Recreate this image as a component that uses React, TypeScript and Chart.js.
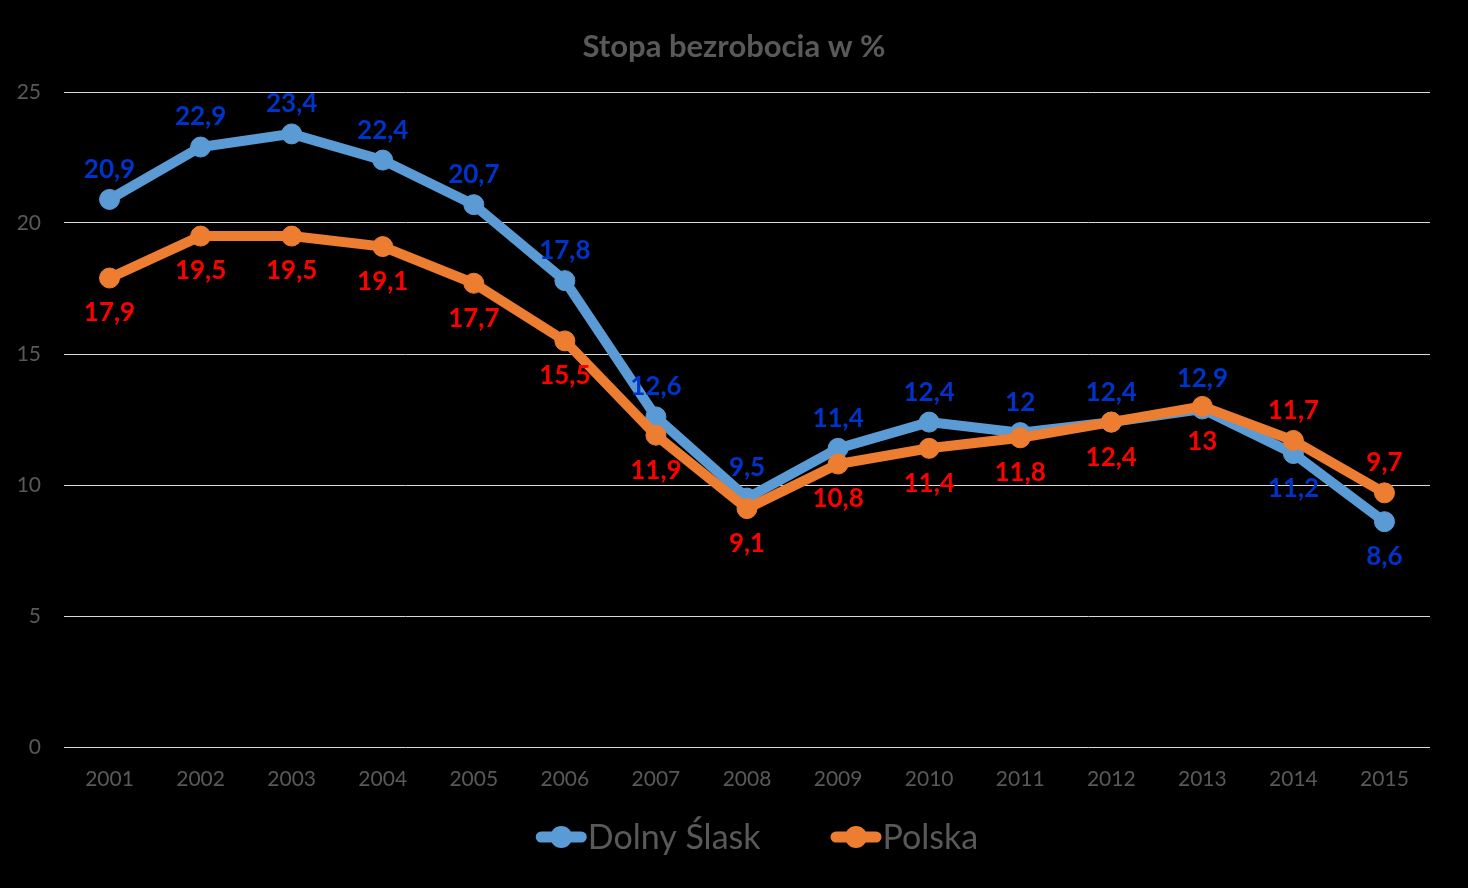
import React, { useEffect, useRef } from "react";
import { Chart, registerables } from "chart.js";

Chart.register(...registerables);

const years = ["2001", "2002", "2003", "2004", "2005", "2006", "2007", "2008", "2009", "2010", "2011", "2012", "2013", "2014", "2015"];
const dolnySlask = [20.9, 22.9, 23.4, 22.4, 20.7, 17.8, 12.6, 9.5, 11.4, 12.4, 12, 12.4, 12.9, 11.2, 8.6];
const polska = [17.9, 19.5, 19.5, 19.1, 17.7, 15.5, 11.9, 9.1, 10.8, 11.4, 11.8, 12.4, 13, 11.7, 9.7];
const dolnyLabelPos = ["above", "above", "above", "above", "above", "above", "above", "above", "above", "above", "above", "above", "above", "below", "below"];
const polskaLabelPos = ["below", "below", "below", "below", "below", "below", "below", "below", "below", "below", "below", "below", "below", "above", "above"];
const seriesNames = ["Dolny Ślask", "Polska"];
const titleText = "Stopa bezrobocia w %";

const FONT = "Lato, 'Open Sans', 'DejaVu Sans', sans-serif";
const GRAY = "#595959";
const BLUE = "#5B9BD5";
const ORANGE = "#ED7D31";

export default function App() {
  const ref = useRef<HTMLCanvasElement>(null);

  useEffect(() => {
    if (!ref.current) return;

    const labelPlugin = {
      id: "valueLabels",
      afterDatasetsDraw(chart: any) {
        const ctx = chart.ctx;
        ctx.save();
        ctx.font = `bold 26px ${FONT}`;
        ctx.textAlign = "center";
        ctx.textBaseline = "middle";
        chart.data.datasets.forEach((ds: any, i: number) => {
          const meta = chart.getDatasetMeta(i);
          meta.data.forEach((pt: any, j: number) => {
            const pos = ds.labelPos[j];
            const dy = pos === "above" ? -30 : 35;
            ctx.fillStyle = ds.labelColor;
            ctx.fillText(String(ds.data[j]).replace(".", ","), pt.x, pt.y + dy);
          });
        });
        ctx.restore();
      },
    };

    const titlePlugin = {
      id: "customTitle",
      afterDraw(chart: any) {
        const ctx = chart.ctx;
        ctx.save();
        ctx.font = `bold 31px ${FONT}`;
        ctx.fillStyle = GRAY;
        ctx.textAlign = "center";
        ctx.textBaseline = "middle";
        ctx.fillText(titleText, chart.width / 2, 47);
        ctx.restore();
      },
    };

    const legendPlugin = {
      id: "customLegend",
      afterDraw(chart: any) {
        const ctx = chart.ctx;
        ctx.save();
        ctx.font = `34px ${FONT}`;
        const markerW = 51;
        const textGap = 1;
        const itemGap = 70;
        const items = chart.data.datasets.map((ds: any) => ({
          label: ds.label,
          color: ds.borderColor,
          w: markerW + textGap + ctx.measureText(ds.label).width,
        }));
        const total = items.reduce((s: number, it: any) => s + it.w, 0) + itemGap * (items.length - 1);
        let x = 757 - total / 2;
        const y = 837;
        items.forEach((it: any) => {
          ctx.strokeStyle = it.color;
          ctx.lineWidth = 11;
          ctx.lineCap = "round";
          ctx.beginPath();
          ctx.moveTo(x + 5.5, y);
          ctx.lineTo(x + markerW - 5.5, y);
          ctx.stroke();
          ctx.fillStyle = it.color;
          ctx.beginPath();
          ctx.arc(x + markerW / 2, y, 11, 0, Math.PI * 2);
          ctx.fill();
          ctx.fillStyle = GRAY;
          ctx.textAlign = "left";
          ctx.textBaseline = "middle";
          ctx.fillText(it.label, x + markerW + textGap, y + 1);
          x += it.w + itemGap;
        });
        ctx.restore();
      },
    };

    const bgPlugin = {
      id: "bg",
      beforeDraw(chart: any) {
        const ctx = chart.ctx;
        ctx.save();
        ctx.fillStyle = "#000000";
        ctx.fillRect(0, 0, chart.width, chart.height);
        ctx.restore();
      },
    };

    const chart = new Chart(ref.current, {
      type: "line",
      data: {
        labels: years,
        datasets: [
          {
            label: seriesNames[0],
            data: dolnySlask,
            borderColor: BLUE,
            backgroundColor: BLUE,
            pointBackgroundColor: BLUE,
            pointBorderColor: BLUE,
            borderWidth: 10,
            pointRadius: 10,
            pointBorderWidth: 1,
            tension: 0,
            order: 1,
            labelPos: dolnyLabelPos,
            labelColor: "#0033CC",
          } as any,
          {
            label: seriesNames[1],
            data: polska,
            borderColor: ORANGE,
            backgroundColor: ORANGE,
            pointBackgroundColor: ORANGE,
            pointBorderColor: ORANGE,
            borderWidth: 10,
            pointRadius: 10,
            pointBorderWidth: 1,
            tension: 0,
            order: 0,
            labelPos: polskaLabelPos,
            labelColor: "#FF0000",
          } as any,
        ],
      },
      options: {
        responsive: false,
        animation: false,
        layout: { padding: { left: 0, right: 38, top: 92, bottom: 81 } },
        plugins: {
          legend: { display: false },
          tooltip: { enabled: false },
          title: { display: false },
        },
        scales: {
          x: {
            offset: true,
            grid: { display: false, drawTicks: false },
            border: { display: false },
            ticks: { color: GRAY, font: { family: FONT, size: 21 }, padding: 20 },
            afterFit(scale: any) {
              scale.height = 60;
            },
          },
          y: {
            min: 0,
            max: 25,
            grid: { color: "#D9D9D9", lineWidth: 1, drawTicks: false },
            border: { display: false },
            ticks: { stepSize: 5, color: GRAY, font: { family: FONT, size: 21 }, padding: 23 },
            afterFit(scale: any) {
              scale.width = 64;
            },
          },
        },
      } as any,
      plugins: [bgPlugin, labelPlugin, titlePlugin, legendPlugin],
    });

    return () => chart.destroy();
  }, []);

  return (
    <div style={{ position: "fixed", left: 0, top: 0, width: 1468, height: 888, background: "#000" }}>
      <canvas ref={ref} width={1468} height={888} style={{ display: "block" }} />
    </div>
  );
}
